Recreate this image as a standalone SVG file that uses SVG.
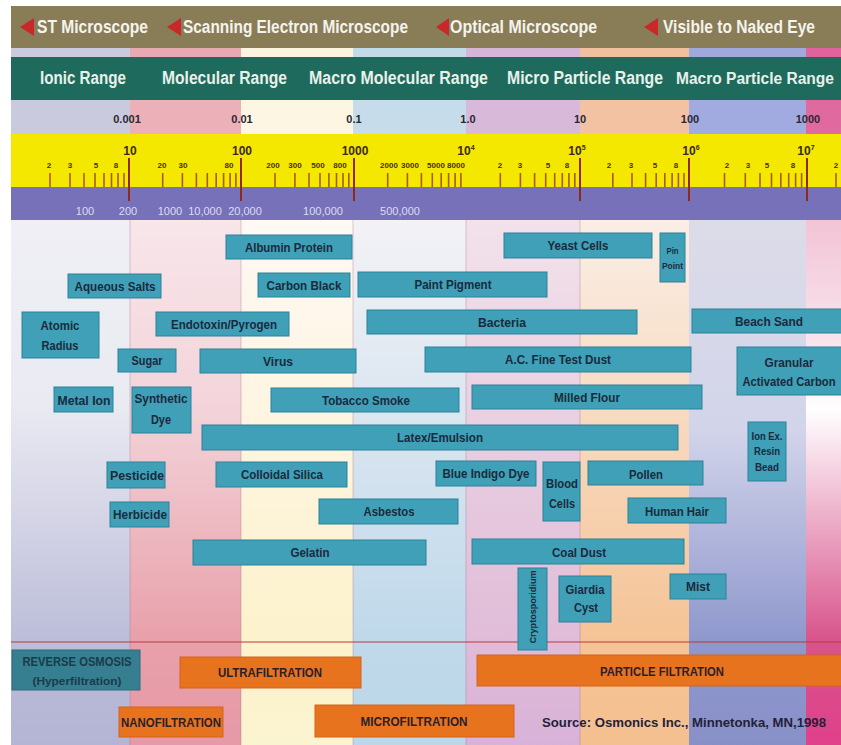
<svg xmlns="http://www.w3.org/2000/svg" width="841" height="745" viewBox="0 0 841 745">
  <defs>
    <style>
      .t { font-family: "Liberation Sans Narrow", "Liberation Sans", Arial, sans-serif; font-weight: bold; text-anchor: middle; }
      .hd1 { font-size: 18px; fill: #f5f3ee; text-anchor: start; }
      .hd2 { font-size: 18px; fill: #e8f1ea; text-anchor: start; }
      .num { font-size: 11px; fill: #2b2733; }
      .maj { font-size: 12px; fill: #3a2a12; }
      .min { font-size: 8px; fill: #4a3010; }
      .mw { font-size: 11px; font-weight: normal; fill: #dcdcf5; }
      .box { fill: #3fa0b7; stroke: #2c8299; stroke-width: 1; }
      .lbl { font-size: 13px; fill: #1b2a3d; }
      .sm { font-size: 9px; fill: #1b2a3d; }
      .xs { font-size: 10px; fill: #1b2a3d; }
      .filt { fill: #e8731f; stroke: #d4651a; stroke-width: 1; }
      .ro { fill: #357f90; stroke: #2a6c7c; stroke-width: 1; }
      .ft { font-size: 12px; fill: #2a1f2c; }
      .rot { fill: #1c3a4c; }
      .rot2 { font-size: 11px; fill: #1c3a4c; }
      .src { font-size: 13px; fill: #24213a; text-anchor: start; }
      .tick { stroke: #a85a1e; stroke-width: 1.6; }
      .mtick { stroke: #8e2a1c; stroke-width: 2; }
      .arrow { fill: #c9282b; }
      .div { stroke: #a06a80; stroke-opacity: 0.35; stroke-width: 1; }
    </style>
    <linearGradient id="g1" x1="0" y1="0" x2="0" y2="1"><stop offset="0" stop-color="#efeff5"/><stop offset="0.35" stop-color="#eaeaf2"/><stop offset="0.8" stop-color="#bcbdd9"/><stop offset="1" stop-color="#b4b4d4"/></linearGradient>
    <linearGradient id="g2" x1="0" y1="0" x2="0" y2="1"><stop offset="0" stop-color="#f8e6ea"/><stop offset="0.35" stop-color="#f3d4da"/><stop offset="0.8" stop-color="#e8a0aa"/><stop offset="1" stop-color="#e699a6"/></linearGradient>
    <linearGradient id="g3" x1="0" y1="0" x2="0" y2="1"><stop offset="0" stop-color="#fff8f4"/><stop offset="0.8" stop-color="#fcf2cc"/><stop offset="1" stop-color="#fbf4d0"/></linearGradient>
    <linearGradient id="g4" x1="0" y1="0" x2="0" y2="1"><stop offset="0" stop-color="#f3f2f6"/><stop offset="0.8" stop-color="#bfd8ea"/><stop offset="1" stop-color="#bcd8e8"/></linearGradient>
    <linearGradient id="g5" x1="0" y1="0" x2="0" y2="1"><stop offset="0" stop-color="#f2e2ea"/><stop offset="0.8" stop-color="#e0bcd8"/><stop offset="1" stop-color="#d8b2d8"/></linearGradient>
    <linearGradient id="g6" x1="0" y1="0" x2="0" y2="1"><stop offset="0" stop-color="#faeee6"/><stop offset="0.8" stop-color="#f5c396"/><stop offset="1" stop-color="#f4c090"/></linearGradient>
    <linearGradient id="g7" x1="0" y1="0" x2="0" y2="1"><stop offset="0" stop-color="#dcdce8"/><stop offset="0.4" stop-color="#d2d4ea"/><stop offset="0.8" stop-color="#8f98cd"/><stop offset="1" stop-color="#8890c8"/></linearGradient>
    <linearGradient id="g8" x1="0" y1="0" x2="0" y2="1"><stop offset="0" stop-color="#f2c4d6"/><stop offset="0.3" stop-color="#fbeef2"/><stop offset="0.36" stop-color="#ffffff"/><stop offset="0.8" stop-color="#d8548c"/><stop offset="1" stop-color="#e0408a"/></linearGradient>
  </defs>

  <rect x="0" y="0" width="841" height="745" fill="#ffffff"/>

  <!-- size bands: main field and lower filtration field -->
  <g id="bands">
    <rect x="11" y="220" width="119" height="525" fill="url(#g1)"/>
    <rect x="130" y="220" width="111" height="525" fill="url(#g2)"/>
    <rect x="241" y="220" width="112" height="525" fill="url(#g3)"/>
    <rect x="353" y="220" width="113" height="525" fill="url(#g4)"/>
    <rect x="466" y="220" width="114" height="525" fill="url(#g5)"/>
    <rect x="580" y="220" width="109" height="525" fill="url(#g6)"/>
    <rect x="689" y="220" width="117" height="525" fill="url(#g7)"/>
    <rect x="806" y="220" width="35" height="525" fill="url(#g8)"/>
    <line class="div" x1="130" y1="220" x2="130" y2="745"/>
    <line class="div" x1="241" y1="220" x2="241" y2="745"/>
    <line class="div" x1="353" y1="220" x2="353" y2="745"/>
    <line class="div" x1="466" y1="220" x2="466" y2="745"/>
    <line class="div" x1="580" y1="220" x2="580" y2="745"/>
    <line x1="11" y1="642" x2="841" y2="642" stroke="#b83a3a" stroke-width="1.2"/>
  </g>

  <!-- microscope header -->
  <g id="microscopes">
    <rect x="11" y="6" width="830" height="42" fill="#897d57"/>
    <polygon class="arrow" points="20,27 34,18 34,36"/>
    <text class="t hd1" x="37" y="33" textLength="111" lengthAdjust="spacingAndGlyphs">ST Microscope</text>
    <polygon class="arrow" points="167,27 181,18 181,36"/>
    <text class="t hd1" x="183" y="33" textLength="225" lengthAdjust="spacingAndGlyphs">Scanning Electron Microscope</text>
    <polygon class="arrow" points="436,27 449,18 449,36"/>
    <text class="t hd1" x="450" y="33" textLength="147" lengthAdjust="spacingAndGlyphs">Optical Microscope</text>
    <polygon class="arrow" points="644,27 658,18 658,36"/>
    <text class="t hd1" x="663" y="33" textLength="152" lengthAdjust="spacingAndGlyphs">Visible to Naked Eye</text>
  </g>

  <!-- coloured strip, range row and micron row -->
  <g id="ranges">
    <g>
      <rect x="11" y="48" width="119" height="9" fill="#cbcbe0"/>
      <rect x="130" y="48" width="111" height="9" fill="#e9a9b2"/>
      <rect x="241" y="48" width="112" height="9" fill="#fcf4de"/>
      <rect x="353" y="48" width="113" height="9" fill="#c2dbe9"/>
      <rect x="466" y="48" width="114" height="9" fill="#d6b6d8"/>
      <rect x="580" y="48" width="109" height="9" fill="#f1c09e"/>
      <rect x="689" y="48" width="117" height="9" fill="#a0a9dc"/>
      <rect x="806" y="48" width="35" height="9" fill="#e0639d"/>
    </g>
    <rect x="11" y="57" width="830" height="43" fill="#1e6a5d"/>
    <text class="t hd2" x="40" y="84" textLength="86" lengthAdjust="spacingAndGlyphs">Ionic Range</text>
    <text class="t hd2" x="162" y="84" textLength="125" lengthAdjust="spacingAndGlyphs">Molecular Range</text>
    <text class="t hd2" x="309" y="84" textLength="179" lengthAdjust="spacingAndGlyphs">Macro Molecular Range</text>
    <text class="t hd2" x="507" y="84" textLength="156" lengthAdjust="spacingAndGlyphs">Micro Particle Range</text>
    <text class="t hd2" x="676" y="84" font-size="16" style="font-size:16px" textLength="158" lengthAdjust="spacingAndGlyphs">Macro Particle Range</text>
    <g>
      <rect x="11" y="100" width="119" height="34" fill="#cacadf"/>
      <rect x="130" y="100" width="111" height="34" fill="#ebb0b8"/>
      <rect x="241" y="100" width="112" height="34" fill="#fdf6e3"/>
      <rect x="353" y="100" width="113" height="34" fill="#c6dcea"/>
      <rect x="466" y="100" width="114" height="34" fill="#d8b9da"/>
      <rect x="580" y="100" width="109" height="34" fill="#f2c2a2"/>
      <rect x="689" y="100" width="117" height="34" fill="#a2abdf"/>
      <rect x="806" y="100" width="35" height="34" fill="#e06aa0"/>
    </g>
    <text class="t num" x="127" y="123">0.001</text>
    <text class="t num" x="242" y="123">0.01</text>
    <text class="t num" x="354" y="123">0.1</text>
    <text class="t num" x="468" y="123">1.0</text>
    <text class="t num" x="580" y="123">10</text>
    <text class="t num" x="690" y="123">100</text>
    <text class="t num" x="808" y="123">1000</text>
  </g>

  <!-- angstrom scale with log ticks -->
  <g id="angstrom-scale">
    <rect x="11" y="134" width="830" height="53" fill="#f4e700"/>
    <rect x="11" y="187" width="830" height="33" fill="#7771b9"/>
    <g>
      <line class="tick" x1="50" y1="173" x2="50" y2="187"/><line class="tick" x1="70" y1="173" x2="70" y2="187"/><line class="tick" x1="84" y1="173" x2="84" y2="187"/><line class="tick" x1="95" y1="173" x2="95" y2="187"/><line class="tick" x1="104" y1="173" x2="104" y2="187"/><line class="tick" x1="111.5" y1="173" x2="111.5" y2="187"/><line class="tick" x1="118" y1="173" x2="118" y2="187"/><line class="tick" x1="124" y1="173" x2="124" y2="187"/>
      <line class="tick" x1="162.7" y1="173" x2="162.7" y2="187"/><line class="tick" x1="182.4" y1="173" x2="182.4" y2="187"/><line class="tick" x1="196.4" y1="173" x2="196.4" y2="187"/><line class="tick" x1="207.3" y1="173" x2="207.3" y2="187"/><line class="tick" x1="216.2" y1="173" x2="216.2" y2="187"/><line class="tick" x1="223.6" y1="173" x2="223.6" y2="187"/><line class="tick" x1="230.1" y1="173" x2="230.1" y2="187"/><line class="tick" x1="235.9" y1="173" x2="235.9" y2="187"/>
      <line class="tick" x1="275" y1="173" x2="275" y2="187"/><line class="tick" x1="294.9" y1="173" x2="294.9" y2="187"/><line class="tick" x1="309" y1="173" x2="309" y2="187"/><line class="tick" x1="320" y1="173" x2="320" y2="187"/><line class="tick" x1="328.9" y1="173" x2="328.9" y2="187"/><line class="tick" x1="336.5" y1="173" x2="336.5" y2="187"/><line class="tick" x1="343" y1="173" x2="343" y2="187"/><line class="tick" x1="348.8" y1="173" x2="348.8" y2="187"/>
      <line class="tick" x1="387.7" y1="173" x2="387.7" y2="187"/><line class="tick" x1="407.4" y1="173" x2="407.4" y2="187"/><line class="tick" x1="421.4" y1="173" x2="421.4" y2="187"/><line class="tick" x1="432.3" y1="173" x2="432.3" y2="187"/><line class="tick" x1="441.2" y1="173" x2="441.2" y2="187"/><line class="tick" x1="448.6" y1="173" x2="448.6" y2="187"/><line class="tick" x1="455.1" y1="173" x2="455.1" y2="187"/><line class="tick" x1="460.9" y1="173" x2="460.9" y2="187"/>
      <line class="tick" x1="500.3" y1="173" x2="500.3" y2="187"/><line class="tick" x1="520.4" y1="173" x2="520.4" y2="187"/><line class="tick" x1="534.6" y1="173" x2="534.6" y2="187"/><line class="tick" x1="545.7" y1="173" x2="545.7" y2="187"/><line class="tick" x1="554.7" y1="173" x2="554.7" y2="187"/><line class="tick" x1="562.3" y1="173" x2="562.3" y2="187"/><line class="tick" x1="568.9" y1="173" x2="568.9" y2="187"/><line class="tick" x1="574.8" y1="173" x2="574.8" y2="187"/>
      <line class="tick" x1="612.8" y1="173" x2="612.8" y2="187"/><line class="tick" x1="632" y1="173" x2="632" y2="187"/><line class="tick" x1="645.6" y1="173" x2="645.6" y2="187"/><line class="tick" x1="656.2" y1="173" x2="656.2" y2="187"/><line class="tick" x1="664.8" y1="173" x2="664.8" y2="187"/><line class="tick" x1="672.1" y1="173" x2="672.1" y2="187"/><line class="tick" x1="678.4" y1="173" x2="678.4" y2="187"/><line class="tick" x1="684" y1="173" x2="684" y2="187"/>
      <line class="tick" x1="724.5" y1="173" x2="724.5" y2="187"/><line class="tick" x1="745.3" y1="173" x2="745.3" y2="187"/><line class="tick" x1="760" y1="173" x2="760" y2="187"/><line class="tick" x1="771.5" y1="173" x2="771.5" y2="187"/><line class="tick" x1="780.8" y1="173" x2="780.8" y2="187"/><line class="tick" x1="788.7" y1="173" x2="788.7" y2="187"/><line class="tick" x1="795.6" y1="173" x2="795.6" y2="187"/><line class="tick" x1="801.6" y1="173" x2="801.6" y2="187"/>
      <line class="tick" x1="836" y1="173" x2="836" y2="187"/>
    </g>
    <g>
      <line class="mtick" x1="129" y1="158" x2="129" y2="201"/>
      <line class="mtick" x1="241" y1="158" x2="241" y2="201"/>
      <line class="mtick" x1="354" y1="158" x2="354" y2="201"/>
      <line class="mtick" x1="580" y1="158" x2="580" y2="201"/>
      <line class="mtick" x1="689" y1="158" x2="689" y2="201"/>
      <line class="mtick" x1="807" y1="158" x2="807" y2="201"/>
    </g>
    <text class="t maj" x="130" y="155">10</text>
    <text class="t maj" x="242" y="155">100</text>
    <text class="t maj" x="355" y="155">1000</text>
    <text class="t maj" x="466" y="155">10<tspan font-size="7" dy="-5">4</tspan></text>
    <text class="t maj" x="577" y="155">10<tspan font-size="7" dy="-5">5</tspan></text>
    <text class="t maj" x="691" y="155">10<tspan font-size="7" dy="-5">6</tspan></text>
    <text class="t maj" x="806" y="155">10<tspan font-size="7" dy="-5">7</tspan></text>
    <g>
      <text class="t min" x="49" y="168">2</text><text class="t min" x="70" y="168">3</text><text class="t min" x="96" y="168">5</text><text class="t min" x="116" y="168">8</text>
      <text class="t min" x="162" y="168">20</text><text class="t min" x="183" y="168">30</text><text class="t min" x="229" y="168">80</text>
      <text class="t min" x="273" y="168">200</text><text class="t min" x="295" y="168">300</text><text class="t min" x="318" y="168">500</text><text class="t min" x="340" y="168">800</text>
      <text class="t min" x="389" y="168">2000</text><text class="t min" x="410" y="168">3000</text><text class="t min" x="436" y="168">5000</text><text class="t min" x="456" y="168">8000</text>
      <text class="t min" x="500" y="168">2</text><text class="t min" x="520" y="168">3</text><text class="t min" x="548" y="168">5</text><text class="t min" x="567" y="168">8</text>
      <text class="t min" x="609" y="168">2</text><text class="t min" x="631" y="168">3</text><text class="t min" x="655" y="168">5</text><text class="t min" x="676" y="168">8</text>
      <text class="t min" x="727" y="168">2</text><text class="t min" x="748" y="168">3</text><text class="t min" x="767" y="168">5</text><text class="t min" x="793" y="168">8</text>
      <text class="t min" x="836" y="168">2</text>
    </g>
    <g>
      <text class="t mw" x="85" y="215">100</text>
      <text class="t mw" x="128" y="215">200</text>
      <text class="t mw" x="170" y="215">1000</text>
      <text class="t mw" x="205" y="215">10,000</text>
      <text class="t mw" x="245" y="215">20,000</text>
      <text class="t mw" x="323" y="215">100,000</text>
      <text class="t mw" x="400" y="215">500,000</text>
    </g>
  </g>

  <!-- particles -->
  <g id="albumin-protein"><rect class="box" x="226" y="235" width="126" height="24"/><text class="t lbl" x="289" y="251.5" textLength="88" lengthAdjust="spacingAndGlyphs">Albumin Protein</text></g>
  <g id="aqueous-salts"><rect class="box" x="68" y="274" width="93" height="24"/><text class="t lbl" x="115" y="290.5" textLength="81" lengthAdjust="spacingAndGlyphs">Aqueous Salts</text></g>
  <g id="carbon-black"><rect class="box" x="258" y="273" width="92" height="24"/><text class="t lbl" x="304" y="289.5" textLength="75" lengthAdjust="spacingAndGlyphs">Carbon Black</text></g>
  <g id="paint-pigment"><rect class="box" x="358" y="272" width="189" height="25"/><text class="t lbl" x="453" y="289" textLength="77" lengthAdjust="spacingAndGlyphs">Paint Pigment</text></g>
  <g id="atomic-radius"><rect class="box" x="22" y="312" width="77" height="46"/><text class="t lbl" x="60" y="329.5" textLength="39" lengthAdjust="spacingAndGlyphs">Atomic</text><text class="t lbl" x="60" y="349.5" textLength="37" lengthAdjust="spacingAndGlyphs">Radius</text></g>
  <g id="endotoxin-pyrogen"><rect class="box" x="156" y="312" width="133" height="24"/><text class="t lbl" x="224" y="328.5" textLength="106" lengthAdjust="spacingAndGlyphs">Endotoxin/Pyrogen</text></g>
  <g id="bacteria"><rect class="box" x="367" y="310" width="270" height="24"/><text class="t lbl" x="502" y="326.5" textLength="48" lengthAdjust="spacingAndGlyphs">Bacteria</text></g>
  <g id="beach-sand"><rect class="box" x="692" y="309" width="150" height="24"/><text class="t lbl" x="769" y="325.5" textLength="68" lengthAdjust="spacingAndGlyphs">Beach Sand</text></g>
  <g id="sugar"><rect class="box" x="118" y="349" width="58" height="23"/><text class="t lbl" x="147" y="364.5" textLength="31" lengthAdjust="spacingAndGlyphs">Sugar</text></g>
  <g id="virus"><rect class="box" x="200" y="349" width="156" height="24"/><text class="t lbl" x="278" y="365.5" textLength="30" lengthAdjust="spacingAndGlyphs">Virus</text></g>
  <g id="ac-fine-test-dust"><rect class="box" x="425" y="347" width="266" height="25"/><text class="t lbl" x="558" y="364" textLength="106" lengthAdjust="spacingAndGlyphs">A.C. Fine Test Dust</text></g>
  <g id="granular-activated-carbon"><rect class="box" x="737" y="347" width="105" height="48"/><text class="t lbl" x="789" y="366.5" textLength="49" lengthAdjust="spacingAndGlyphs">Granular</text><text class="t lbl" x="789" y="385.5" style="font-size:12px" textLength="93" lengthAdjust="spacingAndGlyphs">Activated Carbon</text></g>
  <g id="metal-ion"><rect class="box" x="54" y="387" width="59" height="25"/><text class="t lbl" x="84" y="404.5" textLength="53" lengthAdjust="spacingAndGlyphs">Metal Ion</text></g>
  <g id="synthetic-dye"><rect class="box" x="132" y="387" width="59" height="46"/><text class="t lbl" x="161" y="402.5" textLength="53" lengthAdjust="spacingAndGlyphs">Synthetic</text><text class="t lbl" x="161" y="423.5" textLength="20" lengthAdjust="spacingAndGlyphs">Dye</text></g>
  <g id="tobacco-smoke"><rect class="box" x="271" y="388" width="188" height="24"/><text class="t lbl" x="366" y="404.5" textLength="88" lengthAdjust="spacingAndGlyphs">Tobacco Smoke</text></g>
  <g id="milled-flour"><rect class="box" x="472" y="385" width="230" height="24"/><text class="t lbl" x="587" y="401.5" textLength="66" lengthAdjust="spacingAndGlyphs">Milled Flour</text></g>
  <g id="yeast-cells"><rect class="box" x="504" y="233" width="148" height="25"/><text class="t lbl" x="578" y="250" textLength="61" lengthAdjust="spacingAndGlyphs">Yeast Cells</text></g>
  <g id="pin-point"><rect class="box" x="660" y="233" width="25" height="49"/><text class="t sm" x="672.5" y="253.5" textLength="12" lengthAdjust="spacingAndGlyphs">Pin</text><text class="t sm" x="672.5" y="269" textLength="21" lengthAdjust="spacingAndGlyphs">Point</text></g>
  <g id="latex-emulsion"><rect class="box" x="202" y="425" width="476" height="25"/><text class="t lbl" x="440" y="442" textLength="86" lengthAdjust="spacingAndGlyphs">Latex/Emulsion</text></g>
  <g id="ion-ex-resin-bead"><rect class="box" x="748" y="422" width="38" height="59"/><text class="t xs" x="767" y="439.5" textLength="31" lengthAdjust="spacingAndGlyphs">Ion Ex.</text><text class="t xs" x="767" y="454.5" textLength="26" lengthAdjust="spacingAndGlyphs">Resin</text><text class="t xs" x="767" y="470.5" textLength="24" lengthAdjust="spacingAndGlyphs">Bead</text></g>
  <g id="pesticide"><rect class="box" x="107" y="462" width="58" height="26"/><text class="t lbl" x="137" y="479.5" textLength="54" lengthAdjust="spacingAndGlyphs">Pesticide</text></g>
  <g id="colloidal-silica"><rect class="box" x="216" y="462" width="131" height="25"/><text class="t lbl" x="282" y="478.5" textLength="82" lengthAdjust="spacingAndGlyphs">Colloidal Silica</text></g>
  <g id="herbicide"><rect class="box" x="110" y="502" width="59" height="25"/><text class="t lbl" x="140" y="518.5" textLength="54" lengthAdjust="spacingAndGlyphs">Herbicide</text></g>
  <g id="asbestos"><rect class="box" x="319" y="499" width="139" height="25"/><text class="t lbl" x="389" y="515.5" textLength="51" lengthAdjust="spacingAndGlyphs">Asbestos</text></g>
  <g id="gelatin"><rect class="box" x="193" y="540" width="233" height="25"/><text class="t lbl" x="310" y="556.5" textLength="39" lengthAdjust="spacingAndGlyphs">Gelatin</text></g>
  <g id="blue-indigo-dye"><rect class="box" x="436" y="461" width="100" height="25"/><text class="t lbl" x="486" y="477.5" textLength="87" lengthAdjust="spacingAndGlyphs">Blue Indigo Dye</text></g>
  <g id="blood-cells"><rect class="box" x="543" y="462" width="37" height="59"/><text class="t lbl" x="562" y="487.5" textLength="32" lengthAdjust="spacingAndGlyphs">Blood</text><text class="t lbl" x="562" y="507.5" textLength="26" lengthAdjust="spacingAndGlyphs">Cells</text></g>
  <g id="pollen"><rect class="box" x="588" y="461" width="115" height="24"/><text class="t lbl" x="646" y="478.5" textLength="34" lengthAdjust="spacingAndGlyphs">Pollen</text></g>
  <g id="human-hair"><rect class="box" x="628" y="498" width="98" height="25"/><text class="t lbl" x="677" y="515.5" textLength="64" lengthAdjust="spacingAndGlyphs">Human Hair</text></g>
  <g id="coal-dust"><rect class="box" x="472" y="539" width="212" height="25"/><text class="t lbl" x="579" y="556.5" textLength="54" lengthAdjust="spacingAndGlyphs">Coal Dust</text></g>
  <g id="cryptosporidium"><rect class="box" x="518" y="568" width="29" height="82"/><text class="t sm" x="532.5" y="610" transform="rotate(-90 532.5 607)" textLength="73" lengthAdjust="spacingAndGlyphs">Cryptosporidium</text></g>
  <g id="giardia-cyst"><rect class="box" x="559" y="576" width="52" height="46"/><text class="t lbl" x="585" y="593.5" textLength="39" lengthAdjust="spacingAndGlyphs">Giardia</text><text class="t lbl" x="586" y="611.5" textLength="24" lengthAdjust="spacingAndGlyphs">Cyst</text></g>
  <g id="mist"><rect class="box" x="670" y="574" width="56" height="25"/><text class="t lbl" x="698" y="590.5" textLength="24" lengthAdjust="spacingAndGlyphs">Mist</text></g>

  <!-- separation processes -->
  <g id="reverse-osmosis"><rect class="ro" x="12" y="650" width="128" height="40"/><text class="t ft rot" x="77" y="665.5" textLength="109" lengthAdjust="spacingAndGlyphs">REVERSE OSMOSIS</text><text class="t rot2" x="77" y="685" textLength="89" lengthAdjust="spacingAndGlyphs">(Hyperfiltration)</text></g>
  <g id="ultrafiltration"><rect class="filt" x="180" y="657" width="181" height="31"/><text class="t ft" x="270" y="676.5" textLength="104" lengthAdjust="spacingAndGlyphs">ULTRAFILTRATION</text></g>
  <g id="nanofiltration"><rect class="filt" x="119" y="707" width="104" height="30"/><text class="t ft" x="171" y="726.5" textLength="100" lengthAdjust="spacingAndGlyphs">NANOFILTRATION</text></g>
  <g id="microfiltration"><rect class="filt" x="315" y="705" width="199" height="32"/><text class="t ft" x="414" y="725.5" textLength="107" lengthAdjust="spacingAndGlyphs">MICROFILTRATION</text></g>
  <g id="particle-filtration"><rect class="filt" x="477" y="655" width="365" height="31"/><text class="t ft" x="662" y="675.5" textLength="124" lengthAdjust="spacingAndGlyphs">PARTICLE FILTRATION</text></g>
  <text class="t src" x="542" y="727" textLength="284" lengthAdjust="spacingAndGlyphs">Source: Osmonics Inc., Minnetonka, MN,1998</text>
</svg>
